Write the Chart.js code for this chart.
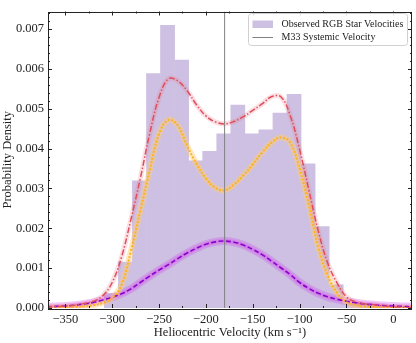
<!DOCTYPE html>
<html>
<head>
<meta charset="utf-8">
<title>Heliocentric velocity distribution</title>
<script src="https://cdn.jsdelivr.net/npm/chart.js@4"></script>
<style>
  html, body { margin: 0; padding: 0; background: #fff; }
</style>
</head>
<body>
<canvas id="chart" width="416" height="343"></canvas>
<script>
// histogram of observed velocities (bin centres, km/s) and density per bin
const binCenters = [-300.9, -285.9, -270.9, -255.9, -240.9, -225.9, -210.9, -195.9, -180.9, -165.9,
                    -150.9, -135.9, -120.9, -105.9, -90.9, -75.9, -60.9, -45.9, -30.9, -15.9, -0.9];
const binDensity = [0.00037, 0.00115, 0.00319, 0.00588, 0.00709, 0.00622, 0.00369, 0.00393, 0.00437, 0.00509,
                    0.00437, 0.00447, 0.00489, 0.00536, 0.00362, 0.00204, 0.00058, 0.00012, 0.00012, 0.00005, 0.00003];

// model curves sampled every 10 km/s
const velocity = [-370, -360, -350, -340, -330, -320, -310, -300, -290, -280,
                  -270, -260, -250, -240, -230, -220, -210, -200, -190, -180,
                  -170, -160, -150, -140, -130, -120, -110, -100, -90, -80,
                  -70, -60, -50, -40, -30, -20, -10, 0, 10, 20];
const totalModel = [0.00002, 0.00003, 0.00005, 0.00007, 0.00011, 0.00017, 0.00031, 0.00064, 0.00128, 0.00222,
                    0.00325, 0.00437, 0.00528, 0.00575, 0.00570, 0.00545, 0.00510, 0.00482, 0.00467, 0.00462,
                    0.00468, 0.00480, 0.00496, 0.00512, 0.00530, 0.00530, 0.00483, 0.00398, 0.00295, 0.00193,
                    0.00113, 0.00063, 0.00028, 0.00015, 0.00010, 0.00008, 0.00005, 0.00003, 0.00002, 0.00001];
const diskModel = [0.00000, 0.00001, 0.00001, 0.00002, 0.00004, 0.00007, 0.00013, 0.00025, 0.00058, 0.00143,
                   0.00243, 0.00345, 0.00437, 0.00472, 0.00458, 0.00407, 0.00362, 0.00325, 0.00302, 0.00295,
                   0.00310, 0.00333, 0.00360, 0.00390, 0.00415, 0.00428, 0.00415, 0.00350, 0.00257, 0.00152,
                   0.00082, 0.00038, 0.00015, 0.00007, 0.00003, 0.00002, 0.00001, 0.00000, 0.00000, 0.00000];
const haloModel = [0.00003, 0.00004, 0.00005, 0.00007, 0.00010, 0.00014, 0.00020, 0.00027, 0.00036, 0.00048,
                   0.00064, 0.00080, 0.00095, 0.00109, 0.00124, 0.00138, 0.00150, 0.00160, 0.00166, 0.00168,
                   0.00165, 0.00158, 0.00147, 0.00134, 0.00118, 0.00101, 0.00084, 0.00064, 0.00049, 0.00037,
                   0.00028, 0.00022, 0.00017, 0.00013, 0.00010, 0.00008, 0.00006, 0.00005, 0.00004, 0.00003];

const systemicVelocity = -180;
const xMin = -368.5, xMax = 20;
const yMin = 0, yMax = 0.00744;

const serif = "'Liberation Serif', 'DejaVu Serif', serif";
const histColor = 'rgb(206, 192, 226)';

function pts(ys) {
  return velocity.map((v, i) => ({ x: v, y: ys[i] }));
}

function curve(ys, color, width, dash, order) {
  return {
    type: 'line', data: pts(ys), borderColor: color, borderWidth: width,
    borderDash: dash, pointRadius: 0, tension: 0.4, fill: false, order: order
  };
}

// inward ticks on all four sides plus the frame
const frameTicks = {
  id: 'frameTicks',
  afterDatasetsDraw(chart) {
    const { ctx, chartArea: a, scales: { x, y } } = chart;
    ctx.save();
    ctx.strokeStyle = '#222';
    ctx.lineWidth = 1;
    ctx.beginPath();
    for (let v = -350; v <= 0; v += 25) {
      const px = Math.round(x.getPixelForValue(v)) + 0.5;
      const len = v % 50 === 0 ? 4 : 2;
      ctx.moveTo(px, a.bottom); ctx.lineTo(px, a.bottom - len);
      ctx.moveTo(px, a.top); ctx.lineTo(px, a.top + len);
    }
    for (let i = 0; i * 0.0002 <= yMax; i++) {
      const py = Math.round(y.getPixelForValue(i * 0.0002)) + 0.5;
      const len = i % 5 === 0 ? 4 : 2;
      ctx.moveTo(a.left, py); ctx.lineTo(a.left + len, py);
      ctx.moveTo(a.right, py); ctx.lineTo(a.right - len, py);
    }
    ctx.stroke();
    ctx.strokeRect(Math.round(a.left) + 0.5, Math.round(a.top) + 0.5,
                   Math.round(a.right - a.left) - 1, Math.round(a.bottom - a.top));
    ctx.restore();
  },
  afterDraw(chart) {
    // legend box in the upper right corner
    const { ctx, chartArea: a } = chart;
    const bx = a.right - 164, by = a.top + 1.5, bw = 159, bh = 32;
    ctx.save();
    ctx.fillStyle = 'rgba(255,255,255,0.85)';
    ctx.strokeStyle = '#d0d0d0';
    ctx.lineWidth = 1;
    ctx.beginPath();
    ctx.roundRect(bx + 0.5, by + 0.5, bw, bh, 3);
    ctx.fill();
    ctx.stroke();
    ctx.fillStyle = histColor;
    ctx.fillRect(bx + 4.5, by + 7.5, 20.5, 7.5);
    ctx.strokeStyle = '#808080';
    ctx.beginPath();
    ctx.moveTo(bx + 4.5, by + 24.5); ctx.lineTo(bx + 25, by + 24.5);
    ctx.stroke();
    ctx.fillStyle = '#222';
    ctx.font = '10px ' + serif;
    ctx.textBaseline = 'middle';
    ctx.fillText('Observed RGB Star Velocities', bx + 33.5, by + 11.5);
    ctx.fillText('M33 Systemic Velocity', bx + 33.5, by + 24.5);
    ctx.restore();
  }
};

new Chart(document.getElementById('chart'), {
  data: {
    datasets: [
      {
        type: 'bar', label: 'Observed RGB Star Velocities',
        data: binCenters.map((c, i) => ({ x: c, y: binDensity[i] })),
        backgroundColor: histColor, borderWidth: 0,
        barPercentage: 1, categoryPercentage: 1, order: 10
      },
      curve(totalModel, 'rgba(235, 110, 125, 0.22)', 5, [], 6),
      curve(diskModel, 'rgba(255, 205, 110, 0.45)', 6, [], 6),
      curve(haloModel, 'rgba(205, 70, 235, 0.30)', 8, [], 6),
      curve(haloModel, 'rgba(205, 70, 235, 0.30)', 4, [], 6),
      curve(totalModel, 'rgb(222, 78, 92)', 1.5, [6, 2, 1.5, 2], 3),
      curve(diskModel, 'rgb(255, 178, 30)', 2, [2, 1.6], 3),
      curve(haloModel, 'rgb(140, 0, 205)', 1.6, [5, 2.5], 3),
      {
        type: 'line', label: 'M33 Systemic Velocity',
        data: [{ x: systemicVelocity, y: yMin }, { x: systemicVelocity, y: yMax }],
        borderColor: '#808080', borderWidth: 1, pointRadius: 0, fill: false, order: 1
      }
    ]
  },
  options: {
    responsive: false,
    animation: false,
    layout: { padding: { top: 4, right: 4, left: 0, bottom: 0 } },
    plugins: { legend: { display: false }, tooltip: { enabled: false } },
    scales: {
      x: {
        type: 'linear', min: xMin, max: xMax, offset: false,
        grid: { display: false, drawTicks: false, tickLength: 0 }, border: { display: false },
        ticks: {
          stepSize: 50, includeBounds: false, padding: 4, color: '#222', maxRotation: 0,
          font: { family: serif, size: 12.5 },
          callback: v => (v < 0 ? '\u2212' + Math.abs(v) : String(v))
        },
        title: {
          display: true, text: 'Heliocentric Velocity (km s\u207B\u00B9)', color: '#222',
          font: { family: serif, size: 12.5 }, padding: { top: 0, bottom: 3 }
        },
        afterFit: s => { s.height = 35; }
      },
      y: {
        min: yMin, max: yMax,
        grid: { display: false, drawTicks: false, tickLength: 0 }, border: { display: false },
        ticks: {
          stepSize: 0.001, includeBounds: false, padding: 4, color: '#222',
          font: { family: serif, size: 12.5 },
          callback: v => v.toFixed(3)
        },
        title: {
          display: true, text: 'Probability Density', color: '#222',
          font: { family: serif, size: 12.5 }, padding: { top: 0, bottom: 0 }
        },
        afterFit: s => { s.width = 48; }
      }
    }
  },
  plugins: [frameTicks]
});
</script>
</body>
</html>
